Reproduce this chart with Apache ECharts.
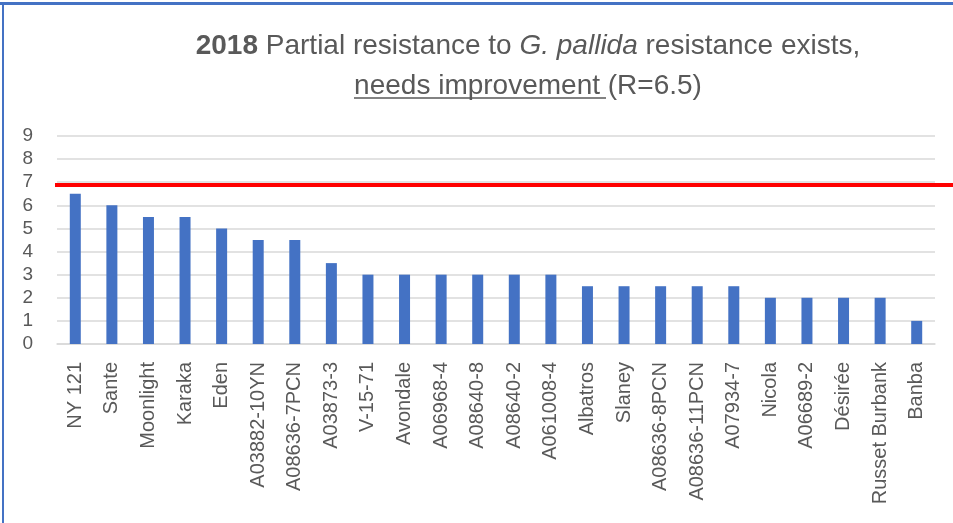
<!DOCTYPE html>
<html>
<head>
<meta charset="utf-8">
<script src="https://cdn.jsdelivr.net/npm/echarts@6/dist/echarts.min.js"></script>
<style>
  html,body{margin:0;padding:0;background:#fff;}
  #main{width:953px;height:523px;}
</style>
</head>
<body>
<div id="main"></div>
<script>
// cultivars and scores
const varieties = ['NY 121','Sante','Moonlight','Karaka','Eden','A03882-10YN','A08636-7PCN','A03873-3',
  'V-15-71','Avondale','A06968-4','A08640-8','A08640-2','A061008-4','Albatros','Slaney',
  'A08636-8PCN','A08636-11PCN','A07934-7','Nicola','A06689-2','Désirée','Russet Burbank','Banba'];
const scores = [6.5,6,5.5,5.5,5,4.5,4.5,3.5,3,3,3,3,3,3,2.5,2.5,2.5,2.5,2.5,2,2,2,2,1];
const threshold = 6.9;
const yTicks = [0,1,2,3,4,5,6,7,8,9];

const grey = '#595959';
const fontFam = '"Liberation Sans", Arial, sans-serif';

let chart = echarts.init(document.getElementById('main'));

let option = {
  animation: false,
  backgroundColor: '#fff',
  grid: { left: 57, right: 18, top: 136, bottom: 179, containLabel: false },
  xAxis: {
    type: 'category',
    data: varieties,
    axisLine: { show: true, lineStyle: { color: '#d9d9d9', width: 1.5 } },
    axisTick: { show: false },
    axisLabel: {
      rotate: 90, interval: 0, color: grey, fontSize: 20, fontFamily: fontFam, margin: 18
    }
  },
  yAxis: {
    type: 'value',
    min: yTicks[0], max: yTicks[yTicks.length - 1], interval: 1,
    axisLine: { show: false },
    axisTick: { show: false },
    axisLabel: { color: grey, fontSize: 19, fontFamily: fontFam, margin: 24 },
    splitLine: { lineStyle: { color: '#d9d9d9', width: 1.5 } }
  },
  series: [{
    type: 'bar',
    data: scores,
    barWidth: 11,
    itemStyle: { color: '#4472c4' },
    markLine: {
      silent: true,
      symbol: 'none',
      label: { show: false },
      lineStyle: { color: '#ff0000', width: 4, type: 'solid' },
      data: [[{ x: 55, yAxis: threshold }, { x: 953, yAxis: threshold }]]
    }
  }],
  graphic: [
    { type: 'rect', shape: { x: 0, y: 2, width: 953, height: 3 }, style: { fill: '#4472c4' }, silent: true },
    { type: 'rect', shape: { x: 2, y: 2, width: 2, height: 521 }, style: { fill: '#4472c4' }, silent: true },
    {
      type: 'text', x: 528, y: 46,
      style: {
        text: '{b|2018} Partial resistance to {i|G. pallida} resistance exists,',
        fill: grey, font: '28px ' + fontFam, align: 'center', verticalAlign: 'middle',
        rich: {
          b: { fontWeight: 'bold', fontSize: 28, fontFamily: fontFam, fill: grey },
          i: { fontStyle: 'italic', fontSize: 28, fontFamily: fontFam, fill: grey }
        }
      }
    },
    {
      type: 'text', x: 528, y: 86,
      style: {
        text: 'needs improvement (R=6.5)', fill: grey, font: '28px ' + fontFam,
        align: 'center', verticalAlign: 'middle'
      }
    },
    { type: 'line', shape: { x1: 354, y1: 98, x2: 606, y2: 98 },
      style: { stroke: grey, lineWidth: 1.5 }, silent: true }
  ]
};
chart.setOption(option);
</script>
</body>
</html>
